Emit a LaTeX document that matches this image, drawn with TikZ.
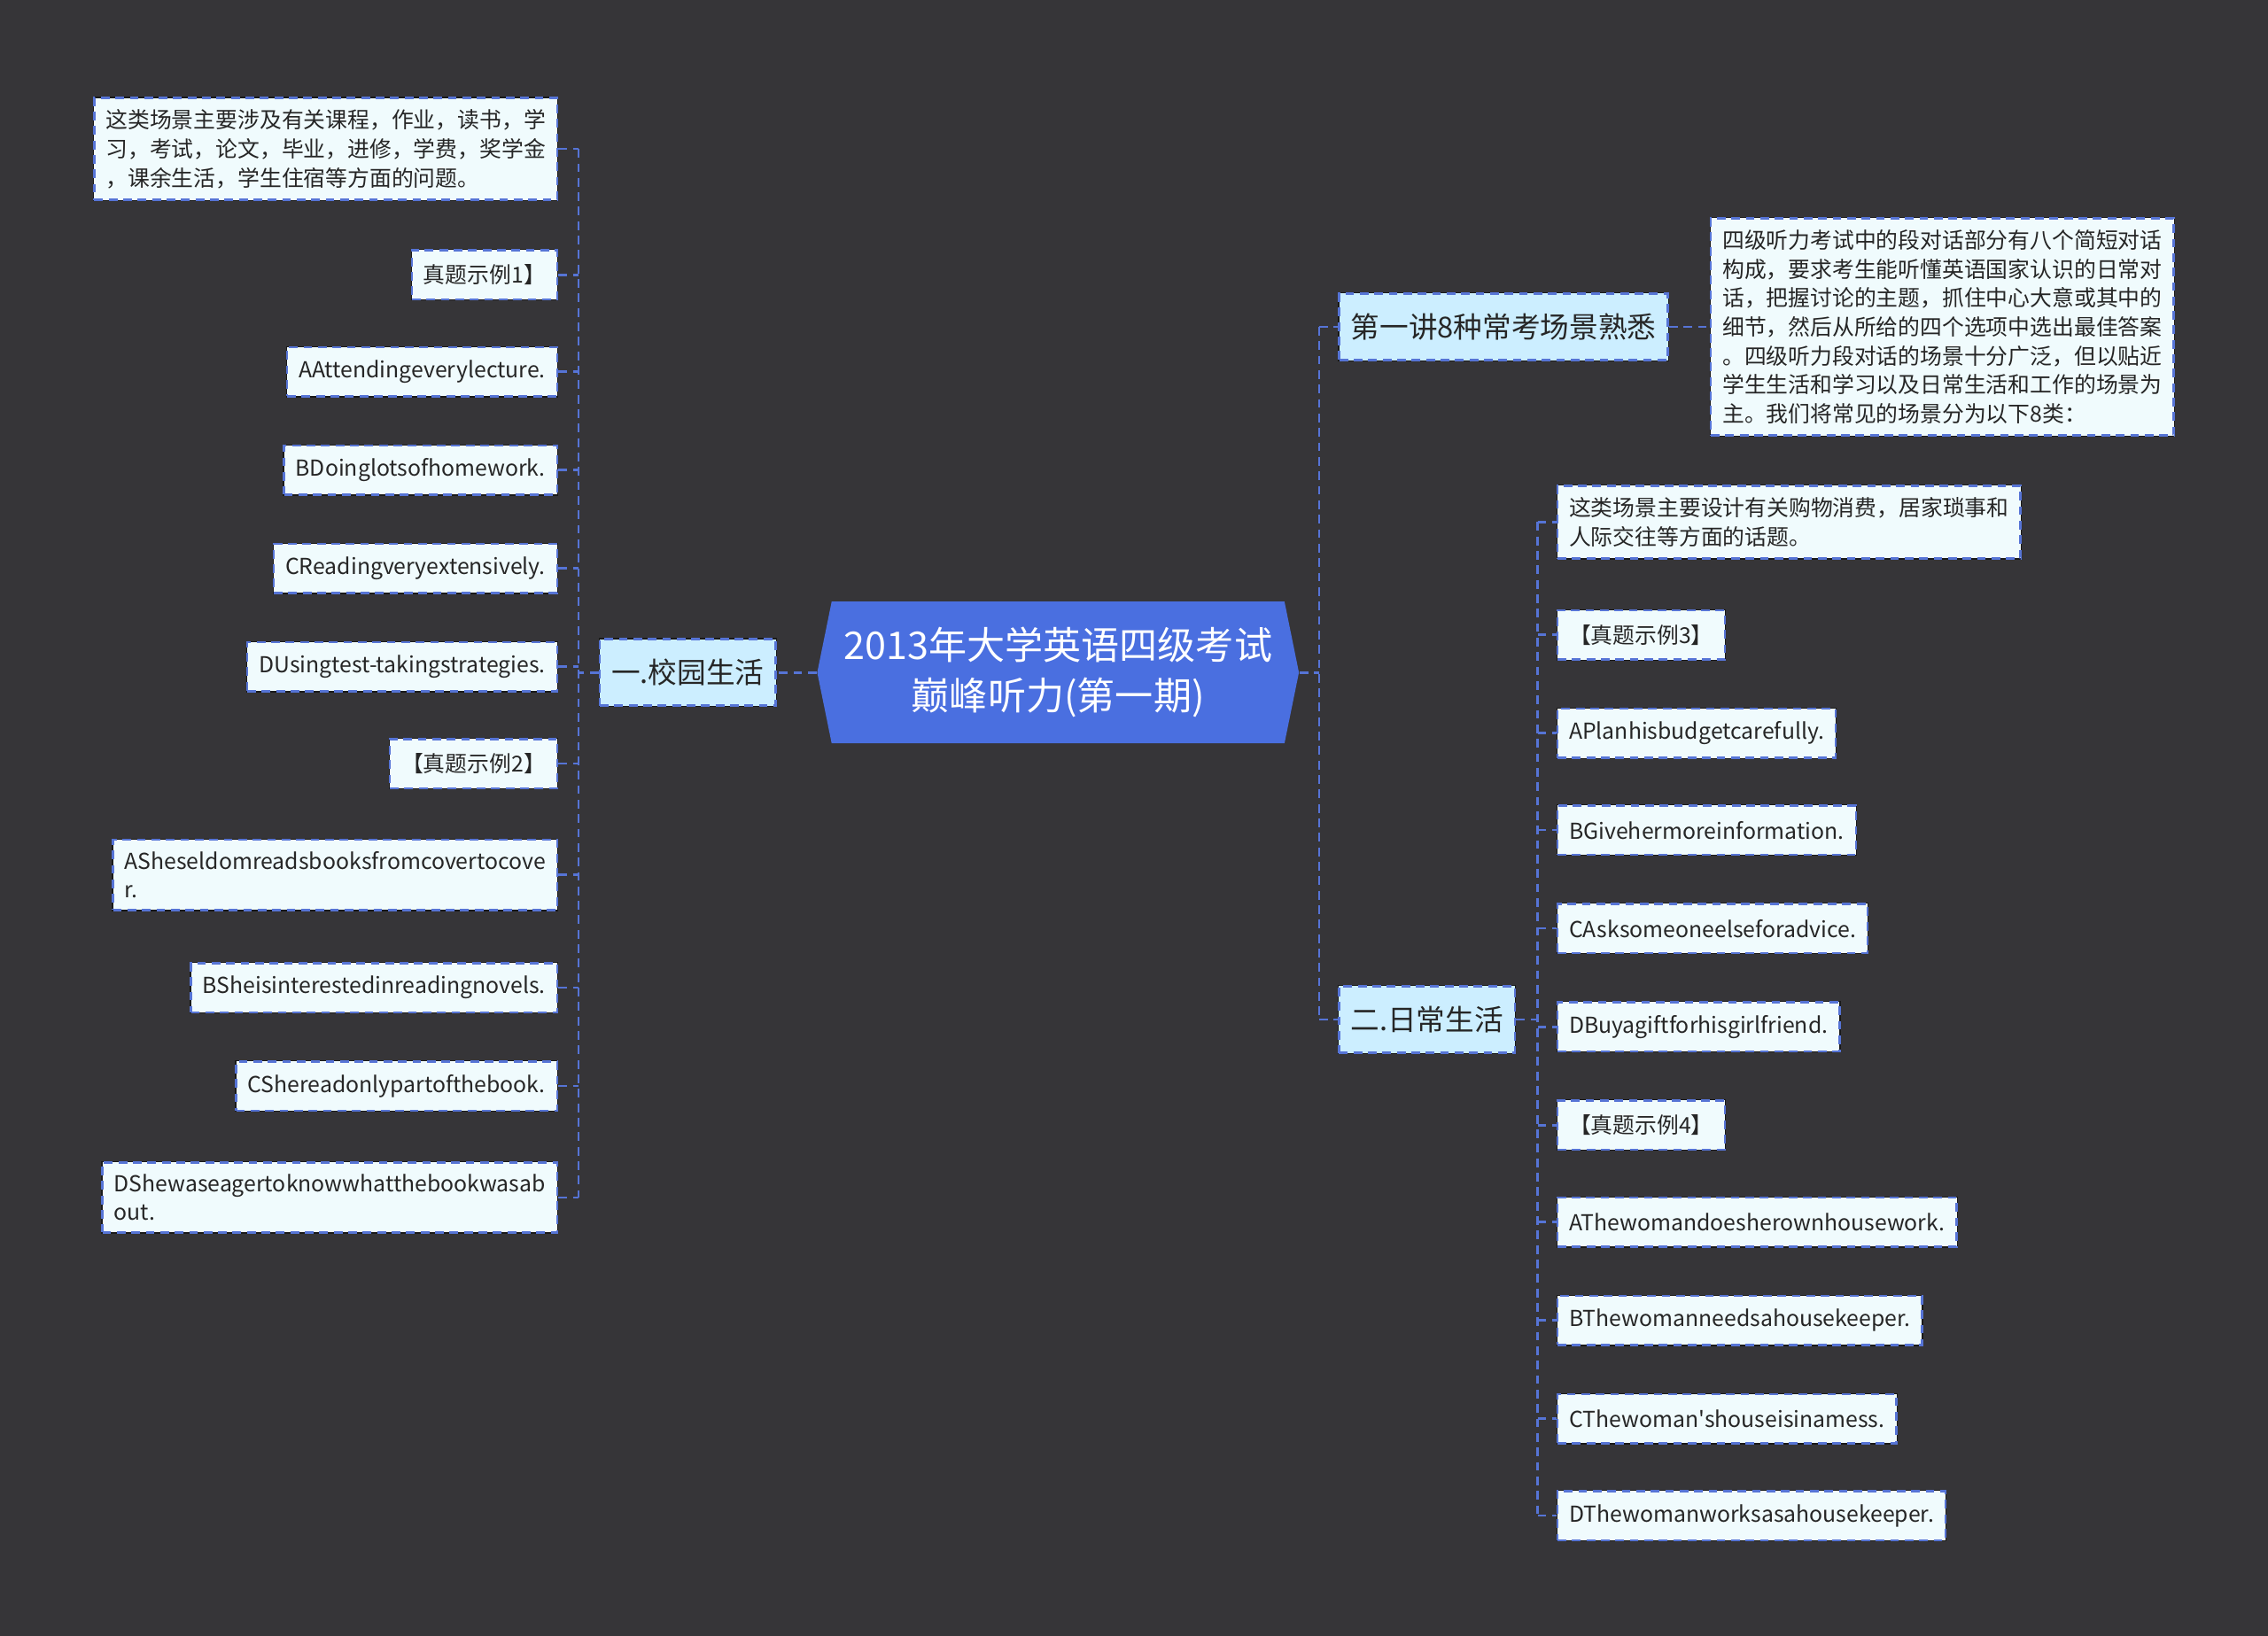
\documentclass[tikz,border=0pt]{standalone}
\usepackage{fontspec}
\setmainfont{Noto Sans CJK SC}
\usetikzlibrary{shapes.symbols}
\definecolor{bgdark}{RGB}{54,53,56}
\definecolor{rootblue}{RGB}{74,111,224}
\definecolor{linkblue}{RGB}{86,116,214}
\definecolor{subfill}{RGB}{204,238,255}
\definecolor{leaffill}{RGB}{240,251,253}
\newcommand\squote{\XeTeXglyph\XeTeXcharglyph"27\relax}
\begin{document}
\begin{tikzpicture}[x=0.5pt,y=-0.5pt,
  link/.style={draw=linkblue,line width=0.8pt,dash pattern=on 3pt off 2pt},
  box/.style={draw=linkblue,line width=0.8pt,dash pattern=on 3pt off 2pt,
    preaction={draw=black!90,solid,line width=0.8pt},text=black!85,
    inner xsep=4pt,inner ysep=4pt,minimum height=17pt,align=left},
  leaf/.style={box,fill=leaffill,font=\fontsize{7.6}{10}\selectfont},
  sub/.style={box,fill=subfill,font=\fontsize{10}{12}\selectfont,minimum height=23pt},
  root/.style={shape=signal,signal to=west and east,signal pointer angle=157,
    fill=rootblue,text=white,align=center,font=\fontsize{13.2}{17.5}\selectfont,
    minimum width=166.5pt,minimum height=49pt,inner sep=0pt}]
  % background
  \fill[bgdark] (0,0) rectangle (1568,1131);
  \coordinate (lbus) at (400,465);\coordinate (rbus) at (912,465);
  \coordinate (dbus) at (1063,705);
  % centre and branches
  \node[root] (root) at (731.5,465) {2013年大学英语四级考试\\巅峰听力(第一期)};
  \node[sub] (campus) at (475.5,465) {一.校园生活};
  \node[sub] (lecture) at (1039.5,226) {第一讲8种常考场景熟悉};
  \node[sub] (daily) at (986.5,705) {二.日常生活};
  % left leaves
  \node[leaf,anchor=east] (cnote) at (386,103) {这类场景主要涉及有关课程，作业，读书，学\\习，考试，论文，毕业，进修，学费，奖学金\\，课余生活，学生住宿等方面的问题。};
  \node[leaf,anchor=east] (cex1) at (386,190) {真题示例1】};
  \node[leaf,anchor=east] (ca1) at (386,257) {AAttendingeverylecture.};
  \node[leaf,anchor=east] (cb1) at (386,325) {BDoinglotsofhomework.};
  \node[leaf,anchor=east] (cc1) at (386,393) {CReadingveryextensively.};
  \node[leaf,anchor=east] (cd1) at (386,461) {DUsingtest-takingstrategies.};
  \node[leaf,anchor=east] (cex2) at (386,528) {【真题示例2】};
  \node[leaf,anchor=east] (ca2) at (386,605) {ASheseldomreadsbooksfromcovertocove\\r.};
  \node[leaf,anchor=east] (cb2) at (386,683) {BSheisinterestedinreadingnovels.};
  \node[leaf,anchor=east] (cc2) at (386,751) {CShereadonlypartofthebook.};
  \node[leaf,anchor=east] (cd2) at (386,828) {DShewaseagertoknowwhatthebookwasab\\out.};
  % right leaves
  \node[leaf,anchor=west] (intro) at (1182,226) {四级听力考试中的段对话部分有八个简短对话\\构成，要求考生能听懂英语国家认识的日常对\\话，把握讨论的主题，抓住中心大意或其中的\\细节，然后从所给的四个选项中选出最佳答案\\。四级听力段对话的场景十分广泛，但以贴近\\学生生活和学习以及日常生活和工作的场景为\\主。我们将常见的场景分为以下8类：};
  \node[leaf,anchor=west] (dnote) at (1076,361) {这类场景主要设计有关购物消费，居家琐事和\\人际交往等方面的话题。};
  \node[leaf,anchor=west] (dex3) at (1076,439) {【真题示例3】};
  \node[leaf,anchor=west] (da3) at (1076,507) {APlanhisbudgetcarefully.};
  \node[leaf,anchor=west] (db3) at (1076,574) {BGivehermoreinformation.};
  \node[leaf,anchor=west] (dc3) at (1076,642) {CAsksomeoneelseforadvice.};
  \node[leaf,anchor=west] (dd3) at (1076,710) {DBuyagiftforhisgirlfriend.};
  \node[leaf,anchor=west] (dex4) at (1076,778) {【真题示例4】};
  \node[leaf,anchor=west] (da4) at (1076,845) {AThewomandoesherownhousework.};
  \node[leaf,anchor=west] (db4) at (1076,913) {BThewomanneedsahousekeeper.};
  \node[leaf,anchor=west] (dc4) at (1076,981) {CThewoman\squote shouseisinamess.};
  \node[leaf,anchor=west] (dd4) at (1076,1048) {DThewomanworksasahousekeeper.};
  % links
  \draw[link] (root.west) -- (campus.east);
  \draw[link] (campus.west) -- (lbus);
  \draw[link] (cnote.east -| lbus) -- (cd2.east -| lbus);
  \foreach \n in {cnote,cex1,ca1,cb1,cc1,cd1,cex2,ca2,cb2,cc2,cd2}
    \draw[link] (\n.east) -- (\n.east -| lbus);
  \draw[link] (root.east) -- (rbus);
  \draw[link] (lecture.west -| rbus) -- (daily.west -| rbus);
  \draw[link] (lecture.west -| rbus) -- (lecture.west);
  \draw[link] (daily.west -| rbus) -- (daily.west);
  \draw[link] (lecture.east) -- (intro.west);
  \draw[link] (daily.east) -- (dbus);
  \draw[link] (dnote.west -| dbus) -- (dd4.west -| dbus);
  \foreach \n in {dnote,dex3,da3,db3,dc3,dd3,dex4,da4,db4,dc4,dd4}
    \draw[link] (\n.west -| dbus) -- (\n.west);
\end{tikzpicture}
\end{document}
